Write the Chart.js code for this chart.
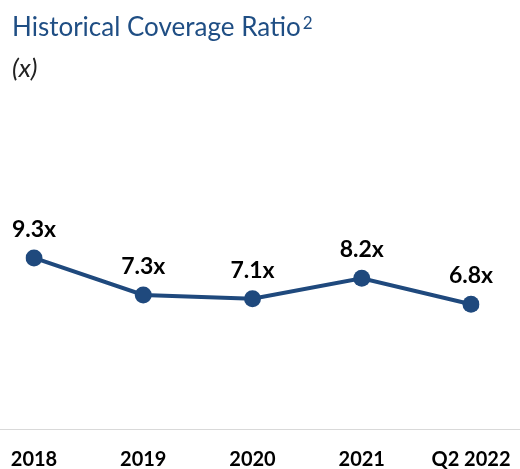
<!DOCTYPE html>
<html>
<head>
<meta charset="utf-8">
<script src="https://cdn.jsdelivr.net/npm/chart.js@4"></script>
<style>
  html, body { margin: 0; padding: 0; background: #fff; }
  #coverageChart { display: block; }
</style>
</head>
<body>
<canvas id="coverageChart" width="520" height="469"></canvas>
<script>
var periods = ['2018', '2019', '2020', '2021', 'Q2 2022'];
var coverage = [9.3, 7.3, 7.1, 8.2, 6.8];
var valueLabels = ['9.3x', '7.3x', '7.1x', '8.2x', '6.8x'];

var titleText = 'Historical Coverage Ratio';
var titleNote = '2';
var unitText = '(x)';

var navy = '#1F497D';
var fontFamily = 'Lato, "Open Sans", sans-serif';

// heading with footnote marker and unit line
var header = {
	id: 'header',
	afterDraw: function(chart){
		var ctx = chart.ctx;
		ctx.save();
		ctx.textAlign = 'left';
		ctx.textBaseline = 'alphabetic';
		ctx.fillStyle = '#1F4E84';
		ctx.font = '26px ' + fontFamily;
		ctx.fillText(titleText, 12, 36);
		var w = ctx.measureText(titleText).width;
		ctx.font = '17px ' + fontFamily;
		ctx.fillText(titleNote, 12 + w + 2, 29);
		ctx.fillStyle = '#222';
		ctx.font = 'italic 26px ' + fontFamily;
		ctx.fillText(unitText, 12, 77);
		ctx.restore();
	}
};

// value text above each point
var pointLabels = {
	id: 'pointLabels',
	afterDatasetsDraw: function(chart){
		var ctx = chart.ctx;
		var meta = chart.getDatasetMeta(0);
		ctx.save();
		ctx.font = 'bold 23px ' + fontFamily;
		ctx.fillStyle = '#000';
		ctx.textAlign = 'center';
		ctx.textBaseline = 'alphabetic';
		meta.data.forEach(function(pt, i){
			ctx.fillText(valueLabels[i], pt.x, pt.y - 21);
		});
		ctx.restore();
	}
};

// thin base line across the full width at zero
var baseLine = {
	id: 'baseLine',
	beforeDatasetsDraw: function(chart){
		var ctx = chart.ctx;
		var y = Math.round(chart.scales.y.getPixelForValue(0)) - 0.5;
		ctx.save();
		ctx.strokeStyle = '#D9D9D9';
		ctx.lineWidth = 1;
		ctx.beginPath();
		ctx.moveTo(0, y);
		ctx.lineTo(chart.width, y);
		ctx.stroke();
		ctx.restore();
	}
};

var chart = new Chart(document.getElementById('coverageChart'), {
	type: 'line',
	data: {
		labels: periods,
		datasets: [{
			data: coverage,
			borderColor: navy,
			backgroundColor: navy,
			borderWidth: 4,
			pointRadius: 8.5,
			pointHoverRadius: 8.5,
			pointBorderWidth: 0,
			pointBackgroundColor: navy,
			tension: 0,
			fill: false
		}]
	},
	options: {
		responsive: false,
		animation: false,
		layout: {
			autoPadding: false,
			// tick labels hang below the canvas edge box, pulled back by the negative bottom
			padding: { left: 34, right: 49, top: 97, bottom: -20 }
		},
		plugins: {
			legend: { display: false },
			tooltip: { enabled: false },
			title: { display: false }
		},
		scales: {
			x: {
				offset: false,
				grid: { display: false, drawTicks: false },
				border: { display: false },
				ticks: {
					color: '#000',
					padding: 0,
					maxRotation: 0,
					font: { family: fontFamily, size: 20, weight: 'bold', lineHeight: '59px' }
				}
			},
			y: {
				display: false,
				min: 0,
				max: 18
			}
		}
	},
	plugins: [baseLine, pointLabels, header]
});
</script>
</body>
</html>
